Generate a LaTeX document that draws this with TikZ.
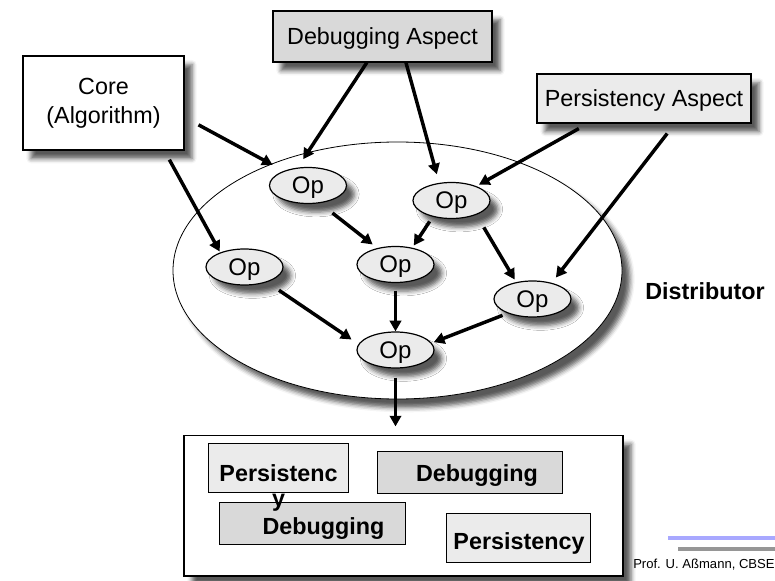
\documentclass[tikz,border=0pt]{standalone}
\usepackage{fontspec}
\setmainfont{Liberation Sans}
\usetikzlibrary{arrows.meta,shapes.geometric,shadows.blur}
\definecolor{dbgfill}{gray}{0.85}
\definecolor{persfill}{gray}{0.92}
\definecolor{opfill}{gray}{0.92}
\definecolor{footblue}{RGB}{168,168,255}
\definecolor{footgray}{RGB}{150,150,150}
\begin{document}
\begin{tikzpicture}[x=0.75pt,y=-0.75pt,
  dropshadow/.style={blur shadow={shadow xshift=6pt,shadow yshift=-6.5pt,shadow blur radius=3.5pt,shadow opacity=65}},
  box/.style={draw,line width=0.8pt,rectangle,inner sep=0pt,align=center,
    font=\fontsize{17.5pt}{21.75pt}\selectfont},
  opnode/.style={ellipse,draw,line width=0.9pt,fill=opfill,minimum width=57.75pt,
    minimum height=27pt,inner sep=0pt,text depth=0pt,
    font=\fontsize{18pt}{21pt}\selectfont,dropshadow},
  inbox/.style={draw,line width=0.6pt,inner sep=0pt},
  tag/.style={font=\fontsize{17.5pt}{21pt}\selectfont\bfseries,inner sep=0pt},
  arr/.style={line width=2.6pt,-{Triangle[length=8pt,width=8.5pt]}}
]
\useasboundingbox (0,0) rectangle (775,581);

% distributor region
\node[ellipse,draw,line width=0.6pt,fill=white,minimum width=336.75pt,
  minimum height=192.75pt,dropshadow] (dist) at (397.5,270.5) {};
\node[tag,anchor=base] (distlabel) at (705,299) {Distributor};

% source components
\node[box,fill=white,minimum width=120.75pt,minimum height=70.5pt,dropshadow]
  (core) at (103.5,103) {Core\\(Algorithm)};
\node[box,fill=dbgfill,minimum width=164.25pt,minimum height=38.25pt,
  text depth=0pt,dropshadow] (dbg) at (382.5,36.5) {Debugging Aspect};
\node[box,fill=persfill,minimum width=160.5pt,minimum height=36.75pt,
  text depth=0pt,dropshadow] (pers) at (644,98.5) {Persistency Aspect};

% operations
\node[opnode] (op1) at (308,185.5) {Op};
\node[opnode] (op2) at (451.5,200.5) {Op};
\node[opnode] (op3) at (244.5,267) {Op};
\node[opnode] (op4) at (395.5,264.5) {Op};
\node[opnode] (op5) at (532.5,299) {Op};
\node[opnode] (op6) at (395.5,350) {Op};

% woven result
\node[draw,line width=0.8pt,fill=white,minimum width=329.25pt,
  minimum height=105.4pt,inner sep=0pt,dropshadow] (out) at (403.5,505.75) {};
\node[inbox,fill=persfill,minimum width=105pt,minimum height=36.75pt]
  (pbox1) at (278,467.5) {};
\node[inbox,fill=dbgfill,minimum width=138.75pt,minimum height=31.5pt]
  (dbox1) at (469.5,472) {};
\node[inbox,fill=dbgfill,minimum width=139.5pt,minimum height=31.5pt]
  (dbox2) at (312,523) {};
\node[inbox,fill=persfill,minimum width=108pt,minimum height=36.75pt]
  (pbox2) at (518,537.5) {};
\node[tag,align=center,font=\fontsize{17.5pt}{18.75pt}\selectfont\bfseries]
  (ptext1) at (278.5,487.5) {Persistenc\\y};
\node[tag,anchor=base] (dtext1) at (477,481) {Debugging};
\node[tag,anchor=base] (dtext2) at (323.5,534) {Debugging};
\node[tag,anchor=base] (ptext2) at (519,549) {Persistency};

% connectors
\draw[arr,shorten <=11.9pt,shorten >=9.4pt] (core.-10.9) -- (op1.149.6);
\draw[arr,shorten <=7.8pt,shorten >=0.75pt] (core.-38.8) -- (op3.149.6);
\draw[arr,shorten >=7.5pt] (dbg.-121.3) -- (op1.120.5);
\draw[arr,shorten >=6.6pt] (dbg.-48.6) -- (op2.125.4);
\draw[arr,shorten <=7.7pt,shorten >=2.2pt] (pers.-156) -- (op2.30.4);
\draw[arr,shorten <=9.45pt,shorten >=5pt] (pers.-39.5) -- (op5.40.5);
\draw[arr,shorten <=11.9pt,shorten >=4.35pt] (op1.-56.2) -- (op4.138.4);
\draw[arr,shorten <=4.2pt,shorten >=2pt] (op2.-139) -- (op4.45.5);
\draw[arr,shorten <=10.9pt,shorten >=2.25pt] (op2.-30.4) -- (op5.134.1);
\draw[arr,shorten <=10.8pt,shorten >=6.2pt] (op3.-34.6) -- (op6.171.6);
\draw[arr,shorten <=5.6pt] (op4.south) -- (op6.north);
\draw[arr,shorten <=4.1pt,shorten >=1.7pt] (op5.-150.2) -- (op6.11.5);
\draw[arr,shorten <=6.75pt,shorten >=6.4pt] (op6.south) -- (op6.south |- out.north);

% footer
\draw[footblue,line width=3pt] (668,538) -- (775,538);
\draw[footgray,line width=3pt] (678,549) -- (775,549);
\node[anchor=base west,inner sep=0pt,font=\fontsize{9.8pt}{12pt}\selectfont]
  (author) at (633,568) {Prof. U. Aßmann, CBSE};
\end{tikzpicture}
\end{document}
